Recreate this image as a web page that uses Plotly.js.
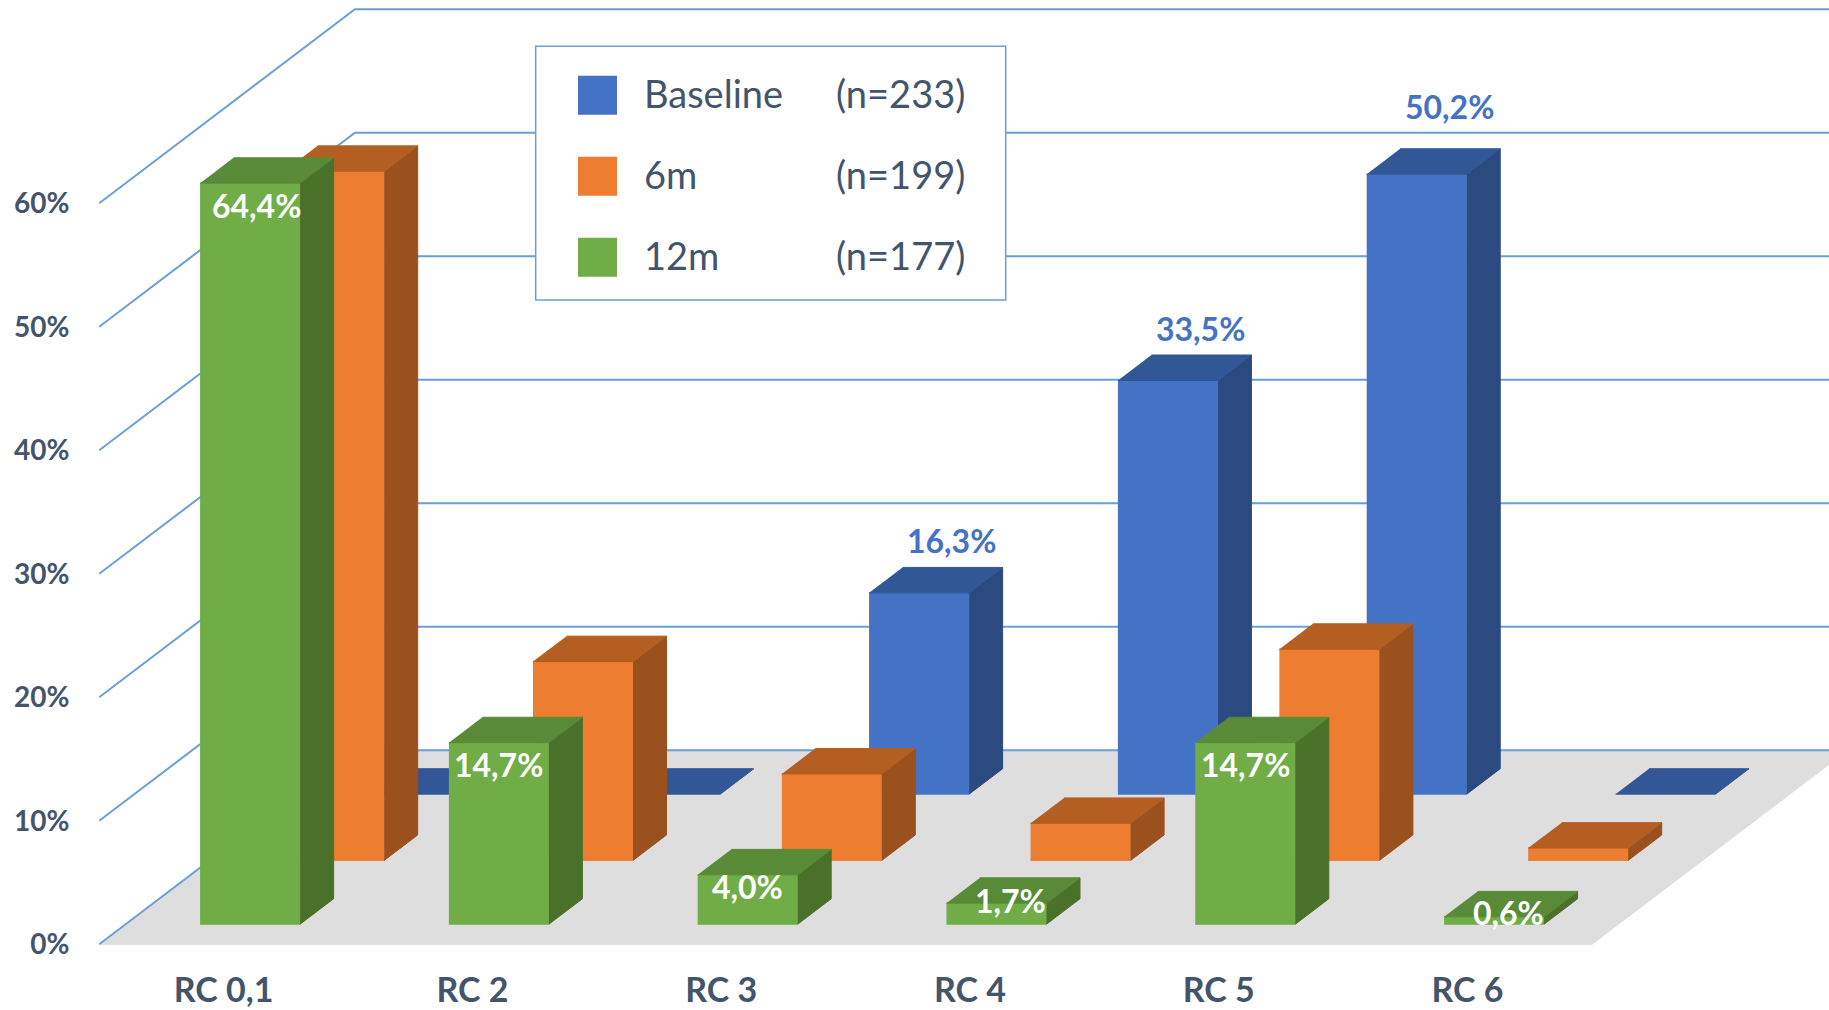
<!DOCTYPE html>
<html><head><meta charset="utf-8">
<script src="https://cdn.plot.ly/plotly-3.0.1.min.js"></script>
<style>html,body{margin:0;padding:0;background:#fff;} #chart{width:1829px;height:1010px;}</style>
</head><body><div id="chart"></div>
<script>
// ---------- data ----------
const categories = ['RC 0,1', 'RC 2', 'RC 3', 'RC 4', 'RC 5', 'RC 6'];
const baseline = [0, 0, 16.3, 33.5, 50.2, 0];
const sixMonths = [55.8, 16.1, 7.0, 3.0, 17.1, 1.0];
const twelveMonths = [64.4, 14.7, 4.0, 1.7, 14.7, 0.6];
const seriesNames = ['Baseline', '6m', '12m'];
const seriesCounts = ['(n=233)', '(n=199)', '(n=177)'];
const yTicks = [0, 10, 20, 30, 40, 50, 60];
const yMax = 60;

// ---------- geometry (layout only) ----------
const W = 1829, H = 1010;
const M = {l: 99, r: 0, t: 0, b: 64};
const X0PX = 223.6, PX_PER_CAT = 248.8, Y0PX = 944.3, PX_PER_PCT = 12.35;
const xr = [(M.l - X0PX) / PX_PER_CAT, (W - M.r - X0PX) / PX_PER_CAT];
const yr = [(Y0PX - (H - M.b)) / PX_PER_PCT, Y0PX / PX_PER_PCT];
const DEPTH_X = 255.7 / PX_PER_CAT, DEPTH_Y = 194 / PX_PER_PCT;
const BAR_W = 0.402, BAR_D = 0.131;
const FONT = 'Lato, "Open Sans", sans-serif';
const TXT = '#44546A';

const rows = [
  {vals: baseline, d: 0.774, front: '#4472C4', top: '#325796', side: '#2B4A80'},
  {vals: sixMonths, d: 0.4325, front: '#ED7D31', top: '#B55E21', side: '#9A511E'},
  {vals: twelveMonths, d: 0.1036, front: '#70AD47', top: '#588A37', side: '#4A7129'}
];

const traces = [];
function poly(color, pts) {
  const x = [], y = [];
  pts.forEach(p => { if (p === null) { x.push(null); y.push(null); } else { x.push(p[0]); y.push(p[1]); } });
  traces.push({type: 'scatter', mode: 'lines', x, y, fill: 'toself', fillcolor: color,
    line: {color: color, width: 1}, hoverinfo: 'skip', showlegend: false});
}

// floor
const fl = categories.length - 0.5;
poly('#DEDEDE', [[-0.5, 0], [fl, 0], [fl + DEPTH_X, DEPTH_Y], [-0.5 + DEPTH_X, DEPTH_Y]]);

// gridlines (left wall + back wall)
const gx = [], gy = [];
yTicks.forEach(t => {
  gx.push(-0.5, -0.5 + DEPTH_X, xr[1] + 1, null);
  gy.push(t, t + DEPTH_Y, t + DEPTH_Y, null);
});
traces.push({type: 'scatter', mode: 'lines', x: gx, y: gy, line: {color: '#6A9FD6', width: 2},
  hoverinfo: 'skip', showlegend: false});

// bars
const tx = BAR_D * DEPTH_X, ty = BAR_D * DEPTH_Y;
rows.forEach(r => {
  const bx = r.d * DEPTH_X, by = r.d * DEPTH_Y;
  const fronts = [], tops = [], sides = [];
  r.vals.forEach((v, i) => {
    const h = Math.min(v, yMax);
    const cx = i + bx, x0 = cx - BAR_W / 2, x1 = cx + BAR_W / 2, y0 = by, y1 = by + h;
    if (h > 0) {
      fronts.push([x0, y0], [x1, y0], [x1, y1], [x0, y1], null);
      sides.push([x1, y0], [x1 + tx, y0 + ty], [x1 + tx, y1 + ty], [x1, y1], null);
    }
    tops.push([x0, y1], [x1, y1], [x1 + tx, y1 + ty], [x0 + tx, y1 + ty], null);
  });
  if (fronts.length) poly(r.front, fronts);
  if (sides.length) poly(r.side, sides);
  poly(r.top, tops);
});

// ---------- annotations ----------
const fmt = v => v.toFixed(1).replace('.', ',') + '%';
const annotations = [];
// green labels (inside end, white)
(function () {
  const r = rows[2];
  r.vals.forEach((v, i) => {
    const h = Math.min(v, yMax);
    const hpx = h * PX_PER_PCT;
    const down = Math.max(-4, Math.min(22, hpx / 2 - 13));
    annotations.push({x: i + r.d * DEPTH_X, y: r.d * DEPTH_Y + h, xref: 'x', yref: 'y',
      text: '<b>' + fmt(v) + '</b>', showarrow: false, xanchor: 'center', yanchor: 'middle',
      xshift: h < 3 ? 14 : (h > 50 ? 6 : 0), yshift: -down,
      font: {family: FONT, size: 32, color: '#FFFFFF'}});
  });
})();
// baseline labels (outside end, blue)
(function () {
  const r = rows[0];
  r.vals.forEach((v, i) => {
    if (v <= 0) return;
    const h = Math.min(v, yMax);
    let c = r.d * DEPTH_Y + h + ty + 27 / PX_PER_PCT;
    yTicks.forEach(t => { const g = t + DEPTH_Y; if (Math.abs(c - g) < 1.5) c = g + 2.13; });
    annotations.push({x: i + r.d * DEPTH_X + 0.13, y: c, xref: 'x', yref: 'y',
      text: '<b>' + fmt(v) + '</b>', showarrow: false, xanchor: 'center', yanchor: 'middle',
      font: {family: FONT, size: 32, color: '#4472C4'}});
  });
})();

// legend (drawn in pixel space converted to paper)
const plotW = W - M.l - M.r, plotH = H - M.t - M.b;
const px = v => (v - M.l) / plotW;
const py = v => (H - M.b - v) / plotH;
const shapes = [];
shapes.push({type: 'rect', xref: 'paper', yref: 'paper', x0: px(535.7), x1: px(1005.7), y0: py(300), y1: py(46.3),
  fillcolor: '#FFFFFF', line: {color: '#6A9FD6', width: 1.5}, layer: 'above'});
const legendColors = rows.map(r => r.front);
seriesNames.forEach((n, k) => {
  const cy = 95.3 + 81 * k;
  shapes.push({type: 'rect', xref: 'paper', yref: 'paper', x0: px(578), x1: px(617), y0: py(cy + 19.5), y1: py(cy - 19.5),
    fillcolor: legendColors[k], line: {width: 0}, layer: 'above'});
  annotations.push({xref: 'paper', yref: 'paper', x: px(642), y: py(cy - 2), text: n, showarrow: false,
    xanchor: 'left', yanchor: 'middle', font: {family: FONT, size: 38, color: TXT}});
  annotations.push({xref: 'paper', yref: 'paper', x: px(834), y: py(cy - 2), text: seriesCounts[k], showarrow: false,
    xanchor: 'left', yanchor: 'middle', font: {family: FONT, size: 38, color: TXT}});
});

const layout = {
  width: W, height: H,
  margin: M,
  paper_bgcolor: '#FFFFFF', plot_bgcolor: 'rgba(0,0,0,0)',
  showlegend: false,
  xaxis: {range: xr, tickvals: categories.map((c, i) => i), ticktext: categories,
    showgrid: false, zeroline: false, showline: false,
    ticks: 'outside', ticklen: 14, tickcolor: 'rgba(0,0,0,0)',
    tickfont: {family: FONT, size: 34, color: TXT, weight: 'bold'}, fixedrange: true},
  yaxis: {range: yr, tickvals: yTicks, ticktext: yTicks.map(t => t + '%'),
    showgrid: false, zeroline: false, showline: false,
    ticks: 'outside', ticklen: 23, tickcolor: 'rgba(0,0,0,0)',
    tickfont: {family: FONT, size: 28, color: TXT, weight: 'bold'}, fixedrange: true},
  shapes: shapes,
  annotations: annotations
};

Plotly.newPlot('chart', traces, layout, {displayModeBar: false, staticPlot: true});
</script>
</body></html>
